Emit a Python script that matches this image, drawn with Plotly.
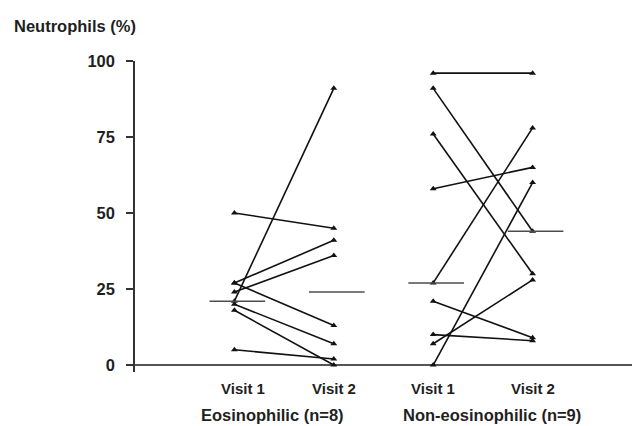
import plotly.graph_objects as go

# Paired neutrophil percentages per subject (visit 1 -> visit 2)
eos_visit1 = [50, 27, 24, 27, 21, 20, 18, 5]
eos_visit2 = [45, 41, 36, 13, 91, 7, 0, 2]
noneos_visit1 = [96, 91, 76, 58, 27, 21, 10, 7, 0]
noneos_visit2 = [96, 44, 30, 65, 78, 9, 8, 28, 60]

# Group medians (visit 1, visit 2)
eos_medians = [21, 24]
noneos_medians = [27, 44]

visit_labels = ["Visit 1", "Visit 2", "Visit 1", "Visit 2"]
group_labels = ["Eosinophilic (n=8)", "Non-eosinophilic (n=9)"]
y_ticks = [0, 25, 50, 75, 100]

FONT = "Liberation Sans, Arial, sans-serif"
INK = "#1f1f1f"

def bold(s):
    return f"<b>{s}</b>"

fig = go.Figure()

def add_pairs(v1, v2, x0):
    for a, b in zip(v1, v2):
        fig.add_trace(go.Scatter(
            x=[x0, x0 + 1], y=[a, b], mode="lines+markers",
            line=dict(color="#111111", width=1.6),
            marker=dict(symbol="triangle-up", size=6, color="#111111"),
            showlegend=False, hoverinfo="skip", cliponaxis=False,
        ))

def add_medians(meds, x0):
    for i, m in enumerate(meds):
        c = x0 + i + 0.03
        fig.add_trace(go.Scatter(
            x=[c - 0.28, c + 0.28], y=[m, m], mode="lines",
            line=dict(color="#4d4d4d", width=1.5),
            showlegend=False, hoverinfo="skip",
        ))

add_pairs(eos_visit1, eos_visit2, 0)
add_pairs(noneos_visit1, noneos_visit2, 2)
add_medians(eos_medians, 0)
add_medians(noneos_medians, 2)

W, H = 632, 426
ML, MR, MT, MB = 135, 0, 61, 54
pw, ph = W - ML - MR, H - MT - MB

annotations = []
for i, lab in enumerate(visit_labels):
    annotations.append(dict(
        x=i, y=0, xref="x", yref="paper", text=bold(lab), showarrow=False,
        xanchor="center", yanchor="middle", yshift=-16,
        xshift=9 if i == 0 else 0,
        font=dict(family=FONT, size=15, color=INK),
    ))
for cx, lab in zip([0.38, 2.59], group_labels):
    annotations.append(dict(
        x=cx, y=0, xref="x", yref="paper", text=bold(lab), showarrow=False,
        xanchor="center", yanchor="middle", yshift=-43,
        font=dict(family=FONT, size=16.5, color=INK),
    ))
annotations.append(dict(
    x=(12 - ML) / pw, y=(H - MB - 26) / ph, xref="paper", yref="paper",
    text=bold("Neutrophils (%)"), showarrow=False,
    xanchor="left", yanchor="middle",
    font=dict(family=FONT, size=16.5, color=INK),
))

fig.update_layout(
    width=W, height=H,
    margin=dict(l=ML, r=MR, t=MT, b=MB, pad=0),
    plot_bgcolor="white", paper_bgcolor="white",
    annotations=annotations,
    xaxis=dict(
        range=[-1.0, 4.0], showgrid=False, zeroline=False,
        showticklabels=False, ticks="", showline=False,
    ),
    yaxis=dict(
        range=[-2.3, 100], tickvals=y_ticks,
        ticktext=[bold(str(v)) for v in y_ticks], showgrid=False,
        zeroline=True, zerolinecolor="#555555", zerolinewidth=2,
        showline=True, linecolor="#333333", linewidth=1.5,
        ticks="outside", ticklen=7, tickwidth=1.5, tickcolor="#333333",
        ticklabelstandoff=8,
        tickfont=dict(family=FONT, size=16.5, color=INK),
    ),
)

fig.write_html("out.html")
